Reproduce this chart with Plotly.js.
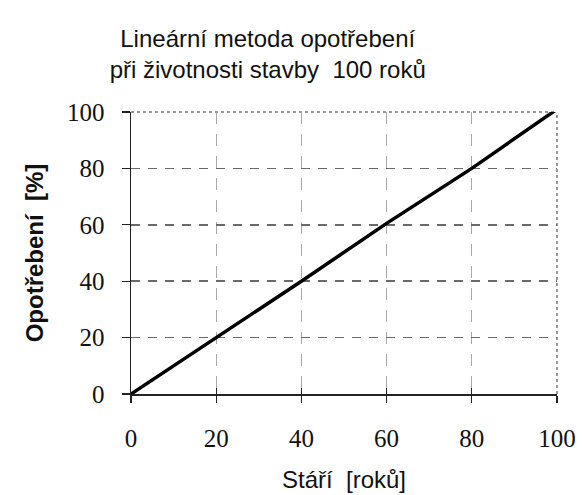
<!DOCTYPE html>
<html>
<head>
<meta charset="utf-8">
<script src="https://cdn.plot.ly/plotly-3.0.1.min.js"></script>
<style>html,body{margin:0;padding:0;background:#fff;}#chart{width:582px;height:495px;}</style>
</head>
<body>
<div id="chart"></div>
<script>
// Data
const stari = [0, 20, 40, 60, 80, 100];          // Stáří [roků]
const opotrebeni = [0, 20, 40, 60.5, 80, 101];   // Opotřebení [%]
const tickVals = [0, 20, 40, 60, 80, 100];
const tickText = ['0', '20', '40', '60', '80', '100'];
const titleText = 'Lineární metoda opotřebení<br>při životnosti stavby  100 roků';
const xTitle = 'Stáří  [roků]';
const yTitle = '<b>Opotřebení  [%]</b>';

const serif = 'Liberation Serif, Times New Roman, serif';
const sans = 'Liberation Sans, Arial, sans-serif';

const traces = [
  {
    x: stari, y: opotrebeni, type: 'scatter', mode: 'lines',
    line: {color: '#000', width: 3.5}, cliponaxis: false,
    hoverinfo: 'skip', showlegend: false
  },
  {
    x: stari, y: opotrebeni, type: 'scatter', mode: 'lines',
    xaxis: 'x2', line: {color: 'rgba(0,0,0,0)', width: 0},
    hoverinfo: 'skip', showlegend: false
  }
];

const layout = {
  width: 582, height: 495,
  paper_bgcolor: '#fff', plot_bgcolor: '#fff',
  margin: {l: 131, r: 25, t: 112, b: 101},
  showlegend: false,
  title: {
    text: titleText,
    font: {family: sans, size: 24, color: '#111', lineheight: 1.4},
    x: 0.46, xanchor: 'center', xref: 'container',
    y: 0.905, yanchor: 'middle', yref: 'container'
  },
  xaxis: {
    range: [0, 100], tickvals: tickVals, ticktext: tickText,
    ticks: 'outside', ticklen: 7, tickwidth: 1.2, tickcolor: '#222',
    showline: true, linecolor: '#222', linewidth: 1.5,
    showgrid: true, gridcolor: '#a8a8a8', gridwidth: 1, griddash: '12px,10px',
    zeroline: false, ticklabelstandoff: 14,
    tickfont: {family: serif, size: 25, color: '#111'},
    title: {text: xTitle, font: {family: sans, size: 24, color: '#111'}, standoff: 20},
    fixedrange: true
  },
  xaxis2: {
    overlaying: 'x', matches: 'x', anchor: 'y', side: 'bottom',
    tickvals: tickVals, ticks: 'inside', ticklen: 6, tickwidth: 1.2, tickcolor: '#222',
    showticklabels: false, showgrid: false, showline: false, zeroline: false
  },
  yaxis: {
    range: [0, 100], tickvals: tickVals, ticktext: tickText,
    ticks: 'outside', ticklen: 8, tickwidth: 1.2, tickcolor: '#222',
    showline: true, linecolor: '#222', linewidth: 1.5,
    showgrid: true, gridcolor: '#6a6a6a', gridwidth: 1.5, griddash: '9px,8px',
    zeroline: false, ticklabelstandoff: 12,
    tickfont: {family: serif, size: 25, color: '#111'},
    title: {text: yTitle, font: {family: sans, size: 24, color: '#111'}, standoff: 16},
    fixedrange: true
  },
  shapes: [
    {type: 'line', xref: 'paper', yref: 'paper', x0: 0, x1: 1, y0: 1, y1: 1,
     line: {color: '#777', width: 1.5, dash: 'dot'}, layer: 'below'},
    {type: 'line', xref: 'paper', yref: 'paper', x0: 1, x1: 1, y0: 0, y1: 1,
     line: {color: '#777', width: 1.5, dash: 'dot'}, layer: 'below'}
  ]
};

Plotly.newPlot('chart', traces, layout, {staticPlot: true, displayModeBar: false});
</script>
</body>
</html>
